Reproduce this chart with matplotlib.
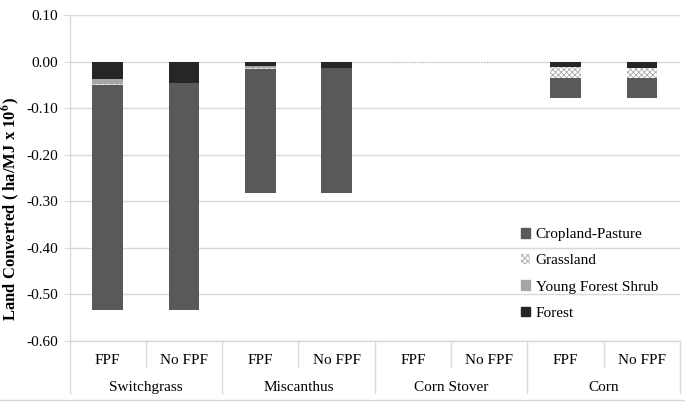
import numpy as np
import matplotlib
matplotlib.use("Agg")
from matplotlib import pyplot as plt
from matplotlib.patches import Patch
from matplotlib.lines import Line2D

# --- data (ha/MJ x 10^6), stacked downward from 0 ---
groups = ["Switchgrass", "Miscanthus", "Corn Stover", "Corn"]
cases = ["FPF", "No FPF"]
forest = [-0.036, -0.045, -0.009, -0.013, 0.0, 0.0, -0.012, -0.013]
young_forest_shrub = [-0.011, 0.0, -0.005, 0.0, 0.0, 0.0, 0.0, 0.0]
grassland = [-0.002, 0.0, -0.001, 0.0, -0.002, -0.002, -0.022, -0.021]
cropland_pasture = [-0.484, -0.488, -0.268, -0.270, -0.001, -0.001, -0.043, -0.043]
y_ticks = [0.10, 0.00, -0.10, -0.20, -0.30, -0.40, -0.50, -0.60]

plt.rcParams['font.family'] = ['Liberation Serif', 'DejaVu Serif']
plt.rcParams['mathtext.fontset'] = 'stix'
plt.rcParams['hatch.linewidth'] = 0.6

grid_c = '#d9d9d9'
fs = 11
fig = plt.figure(figsize=(6.85, 4.03), dpi=100)
ax = fig.add_axes([69.5 / 685, 1 - 340.7 / 403, (680 - 69.5) / 685, 325.4 / 403])

x = np.arange(len(forest))
w = 0.4
base = np.zeros(len(x))
grass_style = dict(facecolor='white', edgecolor='#a8a8a8', hatch='xxxxxx', linewidth=0)
series = [
    (forest, dict(color='#262626')),
    (young_forest_shrub, dict(color='#a6a6a6')),
    (grassland, grass_style),
    (cropland_pasture, dict(color='#595959')),
]
for vals, st in series:
    v = np.array(vals)
    ax.bar(x, v, w, bottom=base, zorder=3, **st)
    base = base + v

ax.set_xlim(-0.5, len(x) - 0.5)
ax.set_ylim(-0.60, 0.10)
ax.set_yticks(y_ticks)
ax.set_yticklabels([f"{t:.2f}" for t in y_ticks], fontsize=fs)
ax.yaxis.grid(True, color=grid_c, linewidth=1, zorder=0)
ax.tick_params(axis='y', length=4, color=grid_c, pad=4)
ax.set_xticks([])
for s in ['top', 'right']:
    ax.spines[s].set_visible(False)
for s in ['left', 'bottom']:
    ax.spines[s].set_color(grid_c)
    ax.spines[s].set_linewidth(1)

ax.set_ylabel(r"Land Converted ( ha/MJ x 10$^{\mathbf{6}}$)", fontsize=12, fontweight='bold')
ax.yaxis.label.set_va('center')
ax.yaxis.set_label_coords(-0.097, 0.405)

# multi-level category axis
tr = ax.get_xaxis_transform()
for i in range(len(x)):
    ax.text(x[i], -0.062, cases[i % 2], transform=tr, ha='center', va='center', fontsize=fs)
for g, name in enumerate(groups):
    ax.text(2 * g + 0.5, -0.143, name, transform=tr, ha='center', va='center', fontsize=fs)
    ax.add_line(Line2D([2 * g + 0.5] * 2, [0, -0.081], transform=tr, color=grid_c, lw=1, clip_on=False))
for g in range(len(groups) + 1):
    ax.add_line(Line2D([2 * g - 0.5] * 2, [0, -0.161], transform=tr, color=grid_c, lw=1, clip_on=False))
fig.add_artist(Line2D([0, 1], [1 - 399.5 / 403] * 2, transform=fig.transFigure, color=grid_c, lw=1))

handles = [
    Patch(color='#595959'),
    Patch(**grass_style),
    Patch(color='#a6a6a6'),
    Patch(color='#262626'),
]
labels = ["Cropland-Pasture", "Grassland", "Young Forest Shrub", "Forest"]
fig.legend(handles, labels, loc='upper left', bbox_to_anchor=(521 / 685, 1 - 228 / 403),
           frameon=False, fontsize=fs, handlelength=0.6, handleheight=0.6,
           handletextpad=0.35, labelspacing=0.85, borderpad=0, borderaxespad=0)

fig.savefig("out.png", dpi=100)
